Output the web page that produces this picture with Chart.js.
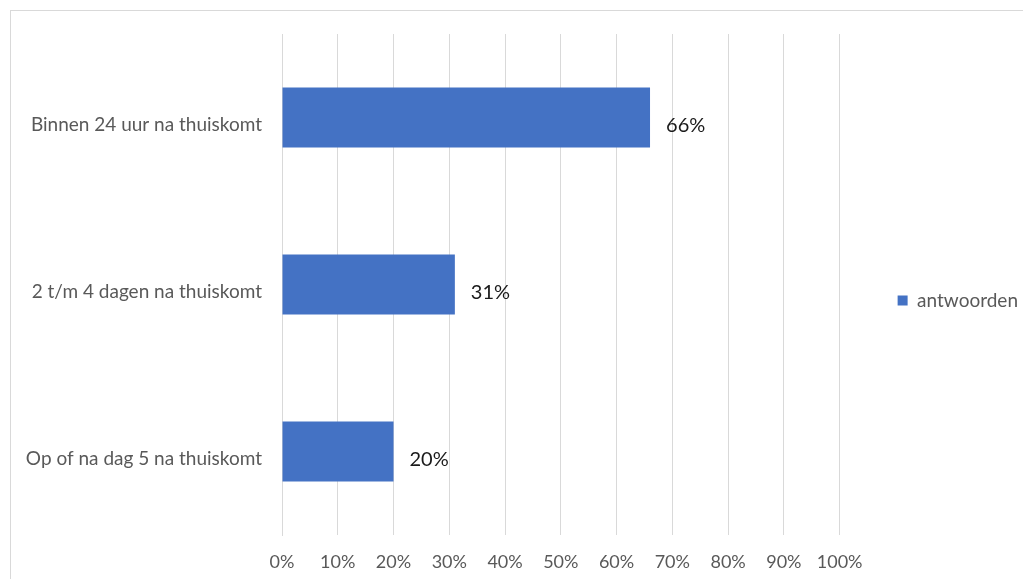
<!DOCTYPE html>
<html>
<head>
<meta charset="utf-8">
<script src="https://cdn.jsdelivr.net/npm/chart.js@4.4.1/dist/chart.umd.min.js"></script>
<style>
  html, body { margin: 0; padding: 0; background: #fff; overflow: hidden; }
  #frame { position: absolute; left: 10px; top: 10px; width: 1100px; height: 700px; border: 1px solid #d9d9d9; }
  #wrap { position: absolute; left: 0; top: 0; width: 1036px; height: 579px; }
</style>
</head>
<body>
<div id="frame"></div>
<div id="wrap"><canvas id="chart"></canvas></div>
<script>
// data
const categories = ['Binnen 24 uur na thuiskomt', '2 t/m 4 dagen na thuiskomt', 'Op of na dag 5 na thuiskomt'];
const antwoorden = [66, 31, 20];
const seriesName = 'antwoorden';

const FONT = 'Lato';
const GREY = '#595959';

// percentage labels next to the bars
const valueLabels = {
    id: 'valueLabels',
    afterDatasetsDraw(chart) {
        const ctx = chart.ctx;
        const meta = chart.getDatasetMeta(0);
        ctx.save();
        ctx.font = '20px ' + FONT;
        ctx.fillStyle = '#1a1a1a';
        ctx.textBaseline = 'middle';
        ctx.textAlign = 'left';
        meta.data.forEach((bar, i) => {
            ctx.fillText(antwoorden[i] + '%', bar.x + 16, bar.y + 8);
        });
        ctx.restore();
    }
};

// nudge the legend up a little so it sits at the plot's middle
const legendNudge = {
    id: 'legendNudge',
    afterLayout(chart) {
        if (chart.legend) {
            chart.legend.top -= 6;
            chart.legend.bottom -= 6;
        }
    }
};

new Chart(document.getElementById('chart'), {
    type: 'bar',
    data: {
        labels: categories,
        datasets: [{
            label: seriesName,
            data: antwoorden,
            backgroundColor: '#4472C4',
            borderWidth: 0,
            categoryPercentage: 0.36,
            barPercentage: 1
        }]
    },
    options: {
        indexAxis: 'y',
        responsive: true,
        maintainAspectRatio: false,
        animation: false,
        layout: { padding: { top: 34, left: 0, right: 8, bottom: 0 } },
        scales: {
            x: {
                min: 0,
                max: 100,
                ticks: {
                    stepSize: 10,
                    color: GREY,
                    font: { family: FONT, size: 18 },
                    padding: 16,
                    callback: v => v + '%'
                },
                grid: { color: '#d9d9d9', drawTicks: false },
                border: { display: false },
                afterFit(scale) { scale.height = 44; }
            },
            y: {
                ticks: {
                    color: GREY,
                    font: { family: FONT, size: 19 },
                    padding: 20,
                    labelOffset: 7
                },
                grid: { display: false, drawTicks: false },
                border: { color: '#d9d9d9' },
                afterFit(scale) { scale.width = 282; }
            }
        },
        plugins: {
            legend: {
                position: 'right',
                labels: {
                    boxWidth: 10,
                    boxHeight: 10,
                    padding: 58,
                    color: GREY,
                    font: { family: FONT, size: 19 }
                }
            },
            tooltip: { enabled: false }
        }
    },
    plugins: [valueLabels, legendNudge]
});
</script>
</body>
</html>
